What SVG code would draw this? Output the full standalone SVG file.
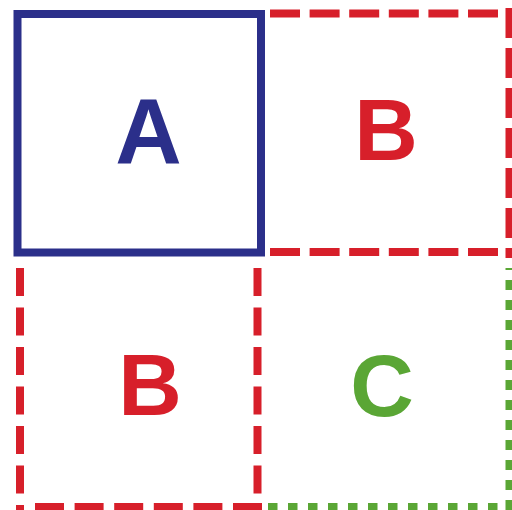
<svg xmlns="http://www.w3.org/2000/svg" width="512" height="510" viewBox="0 0 512 510">
  <style>
    .lbl { font-family: "Liberation Sans", Arial, sans-serif; font-weight: bold; text-anchor: middle; }
    .blue { stroke: #2b2f8a; stroke-width: 8; fill: none; }
    .red { stroke: #d71f2a; stroke-width: 8; fill: none; }
    .green { stroke: #5aa635; stroke-width: 8; fill: none; }
  </style>
  <rect x="0" y="0" width="512" height="510" fill="#ffffff"/>
  <g id="box-B-top">
    <line class="red" x1="270" y1="13.5" x2="498" y2="13.5" stroke-dasharray="30 9.6"/>
    <line class="red" x1="270" y1="252" x2="498" y2="252" stroke-dasharray="30 9.6"/>
    <line class="red" x1="509.5" y1="8" x2="509.5" y2="258" stroke-dasharray="30 10"/>
    <text class="lbl" x="386" y="160" font-size="88" fill="#d71f2a">B</text>
  </g>
  <g id="box-B-bottom">
    <line class="red" x1="20" y1="268" x2="20" y2="515" stroke-dasharray="28 11.5"/>
    <line class="red" x1="257.5" y1="268" x2="257.5" y2="496" stroke-dasharray="28 11.5"/>
    <line class="red" x1="35" y1="507" x2="262" y2="507" stroke-dasharray="29 10.6"/>
    <text class="lbl" x="150" y="415" font-size="88" fill="#d71f2a">B</text>
  </g>
  <g id="box-C">
    <line class="green" x1="509.5" y1="268" x2="509.5" y2="512" stroke-dasharray="10 10" stroke-dashoffset="8"/>
    <line class="green" x1="268" y1="507" x2="512" y2="507" stroke-dasharray="9.5 10.5"/>
    <text class="lbl" x="382" y="416" font-size="88" fill="#5aa635">C</text>
  </g>
  <g id="box-A">
    <rect class="blue" x="17.5" y="14" width="243.5" height="238.5"/>
    <text class="lbl" x="148.5" y="163" font-size="92" fill="#2b2f8a">A</text>
  </g>
  <g id="connectors"></g>
</svg>
